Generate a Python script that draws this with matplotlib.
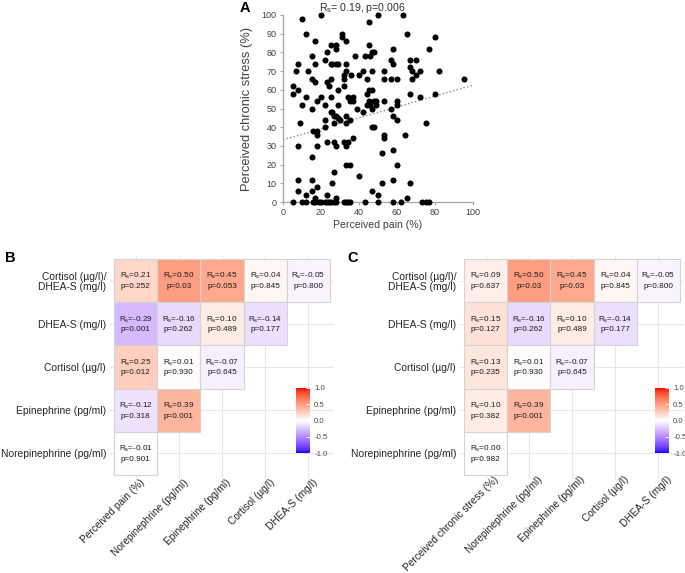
import numpy as np
import matplotlib
matplotlib.use("Agg")
import matplotlib.pyplot as plt
from matplotlib.colors import ListedColormap, Normalize
from matplotlib.patches import Rectangle
from matplotlib.transforms import ScaledTranslation
import matplotlib.colorbar as mcolorbar

plt.rcParams['font.family'] = ['Liberation Sans', 'DejaVu Sans']
plt.rcParams['mathtext.default'] = 'regular'

# ---------------- Panel A data ----------------
pain = [10, 20, 50, 63, 45, 12, 31, 31, 65, 80,
        17, 33, 25, 28, 28, 45, 58, 77,
        23, 47, 48, 15, 38, 43, 46,
        22, 57, 67, 70,
        8, 17, 25, 26, 28, 29, 33, 58,
        7, 13, 33, 42, 47, 53, 67, 68, 72, 82,
        32, 36, 40, 70,
        15, 25, 32, 44, 53, 57, 60, 68, 95,
        17, 23, 5, 24, 32,
        5, 8, 29, 44, 45, 47, 67, 80,
        12, 20, 25, 34, 37, 72,
        18, 35, 37, 45, 48, 49, 53, 60,
        10, 22, 29, 44, 46, 49, 60,
        15, 25, 26, 39, 42, 47, 57,
        27, 28, 29, 30, 33, 35, 22, 58, 60,
        9, 16, 18, 18, 22, 27, 33, 47, 48, 75,
        37, 53, 53, 64,
        8, 18, 28, 23, 27, 32, 33, 34,
        15, 52, 58, 33, 35, 60, 27, 40,
        8, 15, 58, 26, 52, 67,
        8, 15, 47, 18, 12, 23, 50, 65, 17, 28,
        5, 10, 12, 16, 17, 19, 20, 22, 23, 24, 25, 27, 28, 32, 33, 34, 35,
        43, 50, 58, 62, 73, 75, 77]
stress = [98, 100, 100, 100, 96, 90, 90, 88, 90, 88,
          86, 86, 84, 84, 82, 84, 82, 82,
          80, 80, 80, 78, 78, 78, 78,
          76, 76, 76, 76,
          74, 74, 74, 74, 74, 74, 74, 74,
          70, 70, 70, 70, 70, 70, 72, 70, 70, 70,
          68, 68, 68, 68,
          66, 66, 66, 66, 66, 66, 66, 66, 66,
          64, 64, 62, 62, 62,
          58, 60, 60, 58, 60, 60, 58, 58,
          56, 56, 56, 56, 56, 56,
          54, 54, 54, 54, 54, 54, 54, 54,
          52, 52, 52, 52, 52, 52, 52,
          50, 48, 48, 50, 48, 50, 50,
          46, 46, 45, 44, 46, 44, 44, 46, 44,
          42, 38, 38, 36, 40, 42, 42, 40, 40, 42,
          34, 36, 34, 36,
          30, 30, 30, 32, 32, 32, 30, 32,
          24, 26, 28, 20, 20, 20, 16, 14,
          12, 12, 12, 10, 10, 10,
          6, 6, 6, 8, 4, 4, 4, 2, 2, 2,
          0, 0, 0, 0, 0, 0, 0, 0, 0, 0, 0, 0, 0, 0, 0, 0, 0,
          0, 0, 0, 0, 0, 0, 0]
trend_intercept = 33.3
trend_slope = 0.292
title_A = "R$_s$= 0.19, p=0.006"

# ---------------- Panel B / C data ----------------
row_labels = ["Cortisol (µg/l)/\nDHEA-S (mg/l)", "DHEA-S (mg/l)", "Cortisol (µg/l)",
              "Epinephrine (pg/ml)", "Norepinephrine (pg/ml)"]
cols_B = ["Perceived pain (%)", "Norepinephrine (pg/ml)", "Epinephrine (pg/ml)",
          "Cortisol (µg/l)", "DHEA-S (mg/l)"]
cols_C = ["Perceived chronic stress (%)", "Norepinephrine (pg/ml)", "Epinephrine (pg/ml)",
          "Cortisol (µg/l)", "DHEA-S (mg/l)"]

rs_B = [[0.21, 0.50, 0.45, 0.04, -0.05],
        [-0.29, -0.16, 0.10, -0.14],
        [0.25, 0.01, -0.07],
        [-0.12, 0.39],
        [-0.01]]
p_B = [["0.252", "0.03", "0.053", "0.845", "0.800"],
       ["0.001", "0.262", "0.489", "0.177"],
       ["0.012", "0.930", "0.645"],
       ["0.318", "0.001"],
       ["0.901"]]
rs_C = [[0.09, 0.50, 0.45, 0.04, -0.05],
        [0.15, -0.16, 0.10, -0.14],
        [0.13, 0.01, -0.07],
        [0.10, 0.39],
        [0.00]]
p_C = [["0.637", "0.03", "0.03", "0.845", "0.800"],
       ["0.127", "0.262", "0.489", "0.177"],
       ["0.235", "0.930", "0.645"],
       ["0.382", "0.001"],
       ["0.982"]]

cbar_ticks = [-1.0, -0.5, 0.0, 0.5, 1.0]


# ---------------- Lab-interpolated diverging colormap ----------------
def srgb_to_lab(c):
    c = np.asarray(c, float)
    lin = np.where(c <= 0.04045, c / 12.92, ((c + 0.055) / 1.055) ** 2.4)
    M = np.array([[0.4124, 0.3576, 0.1805],
                  [0.2126, 0.7152, 0.0722],
                  [0.0193, 0.1192, 0.9505]])
    xyz = M @ lin
    xyz = xyz / np.array([0.95047, 1.0, 1.08883])
    f = np.where(xyz > 0.008856, np.cbrt(xyz), 7.787 * xyz + 16 / 116)
    return np.array([116 * f[1] - 16, 500 * (f[0] - f[1]), 200 * (f[1] - f[2])])


def lab_to_srgb(lab):
    L, a, b = lab
    fy_ = (L + 16) / 116
    fx_ = fy_ + a / 500
    fz_ = fy_ - b / 200
    f = np.array([fx_, fy_, fz_])
    xyz = np.where(f ** 3 > 0.008856, f ** 3, (f - 16 / 116) / 7.787)
    xyz = xyz * np.array([0.95047, 1.0, 1.08883])
    Minv = np.array([[3.2406, -1.5372, -0.4986],
                     [-0.9689, 1.8758, 0.0415],
                     [0.0557, -0.2040, 1.0570]])
    lin = np.clip(Minv @ xyz, 0, 1)
    c = np.where(lin <= 0.0031308, 12.92 * lin, 1.055 * lin ** (1 / 2.4) - 0.055)
    return np.clip(c, 0, 1)


lab_w = srgb_to_lab([1, 1, 1])
lab_r = srgb_to_lab([1, 0, 0])
lab_b = srgb_to_lab([0, 0, 1])
vals = np.linspace(-1, 1, 256)
cols = []
for v in vals:
    if v < 0:
        cols.append(lab_to_srgb(lab_w + (-v) * (lab_b - lab_w)))
    else:
        cols.append(lab_to_srgb(lab_w + v * (lab_r - lab_w)))
cmap = ListedColormap(cols)
norm = Normalize(-1, 1)

# ---------------- Figure ----------------
W, H = 685, 573
fig = plt.figure(figsize=(W / 100, H / 100), dpi=100)


def fx(px):
    return px / W


def fy(py):
    return 1 - py / H


# Panel A
axA = fig.add_axes([fx(283), fy(202), fx(190), (202 - 15) / H])
axA.scatter(pain, stress, s=19, color='black', zorder=3, linewidths=0, clip_on=False)
axA.axline((0, trend_intercept), slope=trend_slope, color='#8c8c8c', lw=1.0,
           linestyle=(0, (1, 1.6)), zorder=2)
axA.set_xlim(0, 100)
axA.set_ylim(0, 100)
axA.set_xticks(np.arange(0, 101, 20))
axA.set_yticks(np.arange(0, 101, 10))
for s in ['top', 'right']:
    axA.spines[s].set_visible(False)
for s in ['left', 'bottom']:
    axA.spines[s].set_color('#a6a6a6')
    axA.spines[s].set_linewidth(0.9)
axA.tick_params(axis='both', labelsize=6.5, colors='#a6a6a6', labelcolor='#404040',
                length=2.5, width=0.8, pad=2)
axA.set_xlabel("Perceived pain (%)", fontsize=7.6, color='#404040', labelpad=2)
axA.set_ylabel("Perceived chronic stress (%)", fontsize=9.3, color='#404040', labelpad=6)
fig.text(fx(362), fy(8), title_A, fontsize=7.6, color='#303030', ha='center', va='center')
fig.text(fx(240), fy(8), "A", fontsize=10.5, fontweight='bold', ha='left', va='center')


def heat_panel(left_px, rs, ps, cols_lab, letter, letter_x, offx, offy):
    cell = 43.2
    top_px = 259
    axw = cell * 5.2
    ax = fig.add_axes([fx(left_px - 0.1 * cell), fy(top_px - 0.1 * cell + axw),
                       axw / W, axw / H])
    ax.set_xlim(-0.6, 4.6)
    ax.set_ylim(4.6, -0.6)
    ax.set_xticks(range(5))
    ax.set_yticks(range(5))
    ax.set_axisbelow(True)
    ax.grid(True, color='#e6e6e6', lw=0.8)
    for s in ax.spines.values():
        s.set_visible(False)
    for i, (rrow, prow) in enumerate(zip(rs, ps)):
        for j, (r, p) in enumerate(zip(rrow, prow)):
            ax.add_patch(Rectangle((j - 0.5, i - 0.5), 1, 1, facecolor=cmap(norm(r)),
                                   edgecolor='#d4d4d4', lw=0.8, zorder=2))
            ax.text(j, i, "R$_s$=%.2f\np=%s" % (r, p), ha='center', va='center',
                    fontsize=5.9, color='#1a1a1a', linespacing=1.3, zorder=3)
    ax.set_yticklabels(row_labels, fontsize=7.4, color='#262626', linespacing=1.0)
    ax.set_xticklabels(cols_lab, fontsize=7.3, color='#262626', rotation=45,
                       ha='right', va='top', rotation_mode='anchor')
    ax.tick_params(length=0, pad=2.5)
    ax.tick_params(axis='x', pad=0)
    off = ScaledTranslation(offx / 100, offy / 100, fig.dpi_scale_trans)
    for lab in ax.get_xticklabels():
        lab.set_transform(lab.get_transform() + off)
    fig.text(fx(letter_x), fy(258), letter,
             fontsize=10.5, fontweight='bold', ha='left', va='center')
    return ax


axB = heat_panel(114, rs_B, p_B, cols_B, "B", 5, 4, 2)
axC = heat_panel(464, rs_C, p_C, cols_C, "C", 347, 8, 5)


def add_cbar(left_px):
    cax = fig.add_axes([fx(left_px), fy(453), 14 / W, 65 / H])
    cb = mcolorbar.ColorbarBase(cax, cmap=cmap, norm=norm, orientation='vertical')
    cb.outline.set_visible(False)
    cb.set_ticks(cbar_ticks)
    cb.set_ticklabels(["%.1f" % t for t in cbar_ticks])
    cax.tick_params(labelsize=5.6, labelcolor='#4d4d4d', color='white',
                    direction='in', length=3, width=0.6, pad=3)
    return cb


add_cbar(296)
add_cbar(655)

fig.savefig("out.png", dpi=100)
